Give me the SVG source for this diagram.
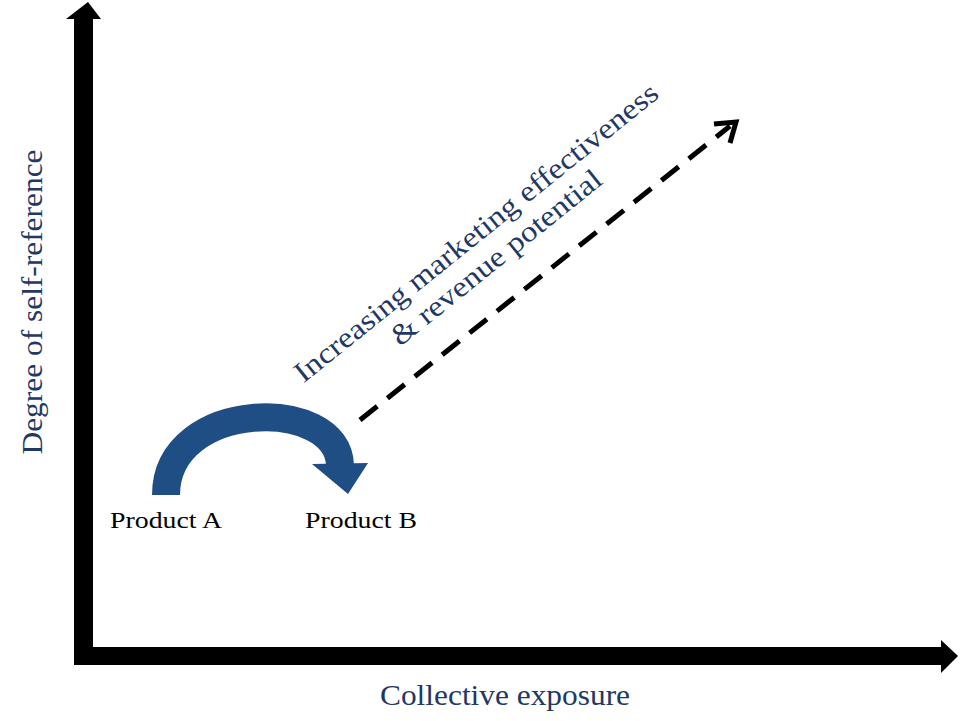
<svg xmlns="http://www.w3.org/2000/svg" width="960" height="721" viewBox="0 0 960 721">
<style>
.lbl{font-family:"Liberation Serif","DejaVu Serif",serif;fill:#1f3864;font-size:29px}
.prod{font-family:"Liberation Serif","DejaVu Serif",serif;fill:#000;font-size:23px}
</style>
<rect width="960" height="721" fill="#fff"/>
<g id="axes">
<rect x="74" y="18" width="19" height="647" fill="#000"/>
<polygon points="66,19 88,2 101,19" fill="#000"/>
<rect x="74" y="647" width="868" height="18" fill="#000"/>
<polygon points="941,640 958,656 941,673" fill="#000"/>
</g>
<g id="connectors">
<path d="M166,495 C166,398 340,396 340,466" fill="none" stroke="#1f4e85" stroke-width="28"/>
<polygon points="312,464 368,463 348,494" fill="#1f4e85"/>
<line x1="360" y1="420" x2="730" y2="126" stroke="#000" stroke-width="5" stroke-dasharray="22,13"/>
<polyline points="714,124 736,122 730,143" fill="none" stroke="#000" stroke-width="5"/>
</g>
<g id="productA"><text class="prod" x="166" y="528" text-anchor="middle" textLength="112" lengthAdjust="spacingAndGlyphs">Product A</text></g>
<g id="productB"><text class="prod" x="361" y="528" text-anchor="middle" textLength="112" lengthAdjust="spacingAndGlyphs">Product B</text></g>
<g id="diag-label" transform="translate(482,240) rotate(-38.8)">
<text class="lbl" x="0" y="0" text-anchor="middle" textLength="458" lengthAdjust="spacingAndGlyphs">Increasing marketing effectiveness</text>
<text class="lbl" x="0" y="32" text-anchor="middle" textLength="262" lengthAdjust="spacingAndGlyphs">&amp; revenue potential</text>
</g>
<text class="lbl" transform="translate(42,302) rotate(-90)" text-anchor="middle" textLength="305" lengthAdjust="spacingAndGlyphs">Degree of self-reference</text>
<text class="lbl" x="505" y="705" text-anchor="middle" textLength="250" lengthAdjust="spacingAndGlyphs">Collective exposure</text>
</svg>
